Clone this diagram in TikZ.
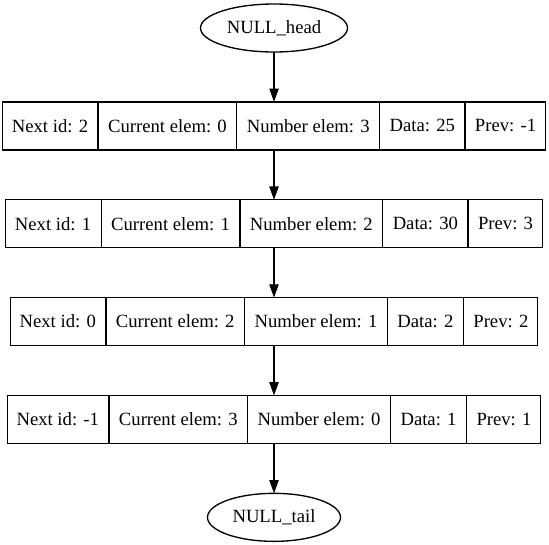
\documentclass[tikz,border=0pt]{standalone}
\usepackage{fontspec}
\setmainfont{Liberation Serif}
\usetikzlibrary{shapes, positioning, arrows.meta}

\begin{document}
\begin{tikzpicture}[line width=1pt]

\tikzstyle{elem}=[rectangle split, rectangle split horizontal, rectangle split parts=5, draw, inner xsep=7pt, inner ysep=0pt, outer sep=0pt, minimum height=36pt, font=\fontsize{14}{16.8}\selectfont]
\tikzstyle{terminal}=[ellipse, draw, inner sep=0pt, outer sep=0pt, minimum height=36pt, font=\fontsize{14}{16.8}\selectfont]
\tikzstyle{link}=[-{Triangle[length=10pt, width=7pt]}]

	\useasboundingbox (0,0) rectangle (411.75pt,-408pt);

	% list ends and elements
	\node[terminal, minimum width=110.25pt] (head) at (205.5pt,-21pt) {NULL\_head};
	\node[elem, below=37.4pt of head] (e0) {Next id: 2\nodepart{two}Current elem: 0\nodepart{three}Number elem: 3\nodepart{four}Data: 25\nodepart{five}Prev: -1};
	\node[elem, below=37.4pt of e0] (e1) {Next id: 1\nodepart{two}Current elem: 1\nodepart{three}Number elem: 2\nodepart{four}Data: 30\nodepart{five}Prev: 3};
	\node[elem, below=37.4pt of e1] (e2) {Next id: 0\nodepart{two}Current elem: 2\nodepart{three}Number elem: 1\nodepart{four}Data: 2\nodepart{five}Prev: 2};
	\node[elem, below=37.4pt of e2] (e3) {Next id: -1\nodepart{two}Current elem: 3\nodepart{three}Number elem: 0\nodepart{four}Data: 1\nodepart{five}Prev: 1};
	\node[terminal, minimum width=99.75pt, below=37.4pt of e3] (tail) {NULL\_tail};

	% links
	\draw[link] (head) -- (e0);
	\draw[link] (e0) -- (e1);
	\draw[link] (e1) -- (e2);
	\draw[link] (e2) -- (e3);
	\draw[link] (e3) -- (tail);
\end{tikzpicture}
\end{document}
